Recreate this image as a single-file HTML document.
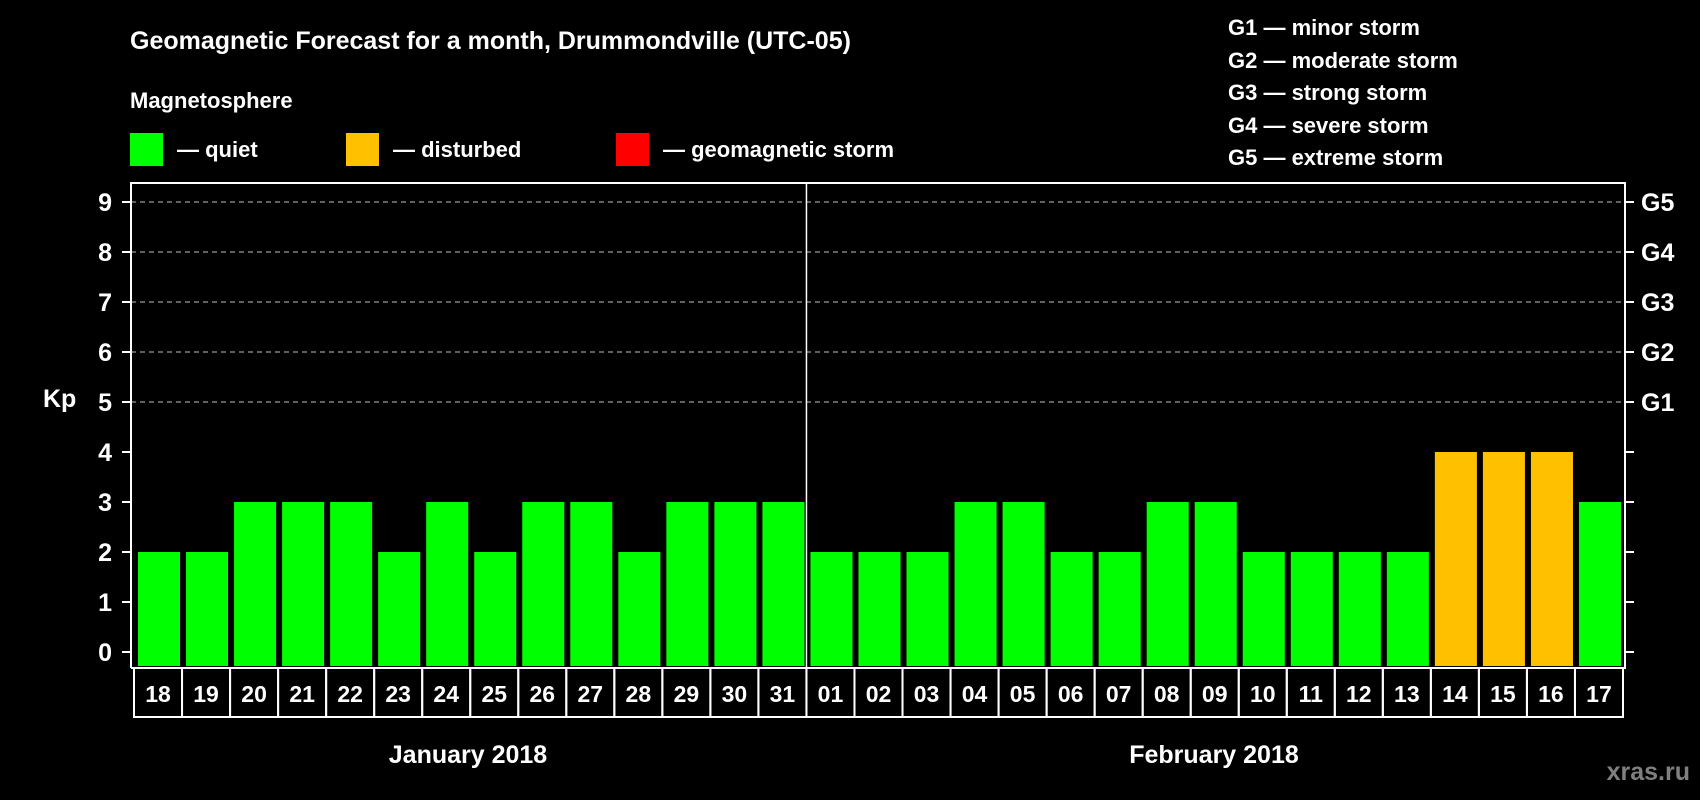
<!DOCTYPE html>
<html><head><meta charset="utf-8"><style>
html,body{margin:0;padding:0;background:#000;width:1700px;height:800px;overflow:hidden}
svg text{font-family:"Liberation Sans",Arial,sans-serif;font-weight:bold;fill:#fff}
</style></head><body>
<svg id="chart" width="1700" height="800" xmlns="http://www.w3.org/2000/svg">
<text x="130" y="49" font-size="25">Geomagnetic Forecast for a month, Drummondville (UTC-05)</text>
<text x="130" y="108" font-size="22">Magnetosphere</text>
<rect x="130" y="133" width="33" height="33" fill="#00ff00"/>
<text x="177" y="157" font-size="22">— quiet</text>
<rect x="346" y="133" width="33" height="33" fill="#ffc000"/>
<text x="393" y="157" font-size="22">— disturbed</text>
<rect x="616" y="133" width="33" height="33" fill="#ff0000"/>
<text x="663" y="157" font-size="22">— geomagnetic storm</text>
<g font-size="22">
<text x="1228" y="35">G1 — minor storm</text>
<text x="1228" y="68">G2 — moderate storm</text>
<text x="1228" y="100">G3 — strong storm</text>
<text x="1228" y="133">G4 — severe storm</text>
<text x="1228" y="165">G5 — extreme storm</text>
</g>
<text x="43" y="407" font-size="25">Kp</text>
<text x="468" y="763" font-size="25" text-anchor="middle">January 2018</text>
<text x="1214" y="763" font-size="25" text-anchor="middle">February 2018</text>
<text x="1690" y="780" font-size="25" text-anchor="end" style="fill:#808080">xras.ru</text>
<g id="plot"></g>
</svg>
<script>
const days=["18","19","20","21","22","23","24","25","26","27","28","29","30","31","01","02","03","04","05","06","07","08","09","10","11","12","13","14","15","16","17"];
const kp=[2,2,3,3,3,2,3,2,3,3,2,3,3,3,2,2,2,3,3,2,2,3,3,2,2,2,2,4,4,4,3];
const yTicks=[0,1,2,3,4,5,6,7,8,9];
const gLabels=["","","","","","G1","G2","G3","G4","G5"];
const NS="http://www.w3.org/2000/svg";
const plot=document.getElementById('plot');
const L=131,R=1625,T=183,B=668,cellX0=134,cellW=(1623-134)/days.length;
const y=v=>652-v*50;
const x=i=>cellX0+i*cellW;
function mk(t,a){const e=document.createElementNS(NS,t);for(const k in a)e.setAttribute(k,a[k]);plot.appendChild(e);return e;}
yTicks.forEach((v,i)=>{
  if(v>=5){const g=mk('line',{x1:L,x2:R,y1:y(v),y2:y(v),stroke:'#999','stroke-width':1.2,'stroke-dasharray':'5,4'});
  
  }
  const t1=mk('line',{x1:L-9,x2:L,y1:y(v),y2:y(v),stroke:'#fff','stroke-width':2});
  
  
  const t2=mk('line',{x1:R,x2:R+9,y1:y(v),y2:y(v),stroke:'#fff','stroke-width':2});
  
  
  const lb=mk('text',{x:112,y:y(v)+9,'font-size':25,'text-anchor':'end'});lb.textContent=v;
  
  
  if(gLabels[i]){const g=mk('text',{x:1641,y:y(v)+9,'font-size':25});g.textContent=gLabels[i];
  
  }
});
kp.forEach((v,i)=>{
  const b=mk('rect',{x:x(i)+4,y:y(v),width:cellW-6,height:B-2-y(v),fill:v>=5?'#ff0000':(v>=4?'#ffc000':'#00ff00')});
  
  
  const c=mk('rect',{x:x(i),y:B,width:cellW,height:49,fill:'none',stroke:'#fff','stroke-width':2});
  
  
  const t=mk('text',{x:x(i)+cellW/2,y:B+34,'font-size':23,'text-anchor':'middle'});t.textContent=days[i];
  
  
});
const frame=mk('path',{d:`M${L} ${B} V${T} H${R} V${B} H${L}`,fill:'none',stroke:'#fff','stroke-width':2});


const sep=mk('line',{x1:x(14),x2:x(14),y1:T,y2:B,stroke:'#fff','stroke-width':1.5});


</script>
</body></html>
